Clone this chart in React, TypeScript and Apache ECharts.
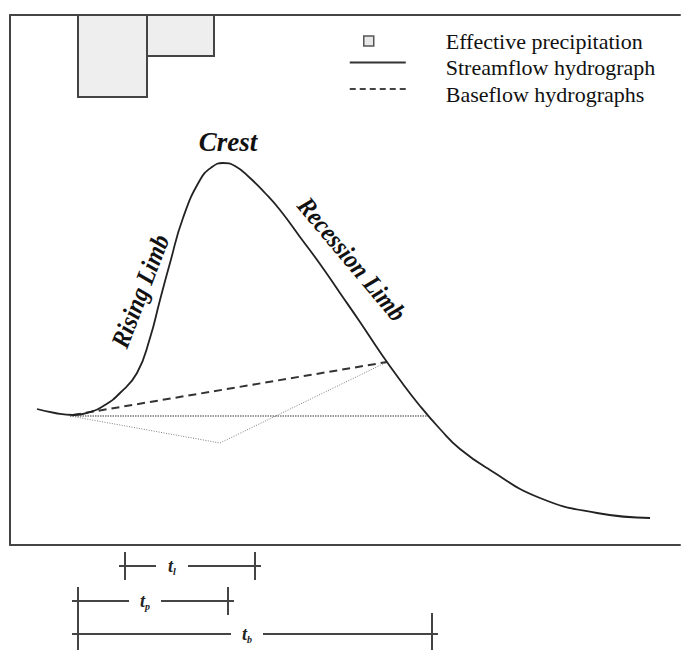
import React, { useEffect, useRef } from 'react';
import * as echarts from 'echarts';

// Effective precipitation blocks (time start/end, depth)
const precipStart = [6.8, 13.7];
const precipEnd = [13.7, 20.4];
const precipDepth = [8.2, 4.1];

// Streamflow hydrograph (time, discharge)
const flowTime = [2.7, 4.5, 6.3, 8.0, 9.5, 11.0, 12.7, 14.0, 15.0, 16.0, 17.3, 19.0, 20.2, 21.3, 22.5, 24.0, 25.5, 27.0, 29.0, 31.0, 33.0, 35.0, 37.0, 39.0, 41.0, 43.0, 45.0, 48.0, 53.0, 58.7, 64.0];
const flowQ = [13.6, 13.2, 13.0, 13.3, 14.0, 15.2, 17.2, 20.7, 24.5, 28.2, 32.7, 36.5, 37.8, 38.2, 37.9, 36.7, 35.2, 33.5, 30.8, 28.1, 25.2, 22.3, 19.3, 16.5, 13.9, 11.6, 9.6, 7.5, 4.7, 3.2, 2.7];

// Baseflow separations
const baseDashedTime = [6.3, 37.7];
const baseDashedQ = [13.0, 18.3];
const baseConstTime = [6.0, 41.8];
const baseConstQ = [12.9, 12.9];
const baseFixedTime = [6.0, 21.0, 37.7];
const baseFixedQ = [12.9, 10.2, 18.3];

// Time parameters below the chart
const timeSub = ['l', 'p', 'b'];
const timeStart = [11.5, 6.8, 6.8];
const timeEnd = [24.5, 21.8, 42.2];
const timeRow = [2.1, 5.6, 8.9];
const timeLabelAt = [16.2, 13.5, 23.7];

// Annotations
const annotText = ['Crest', 'Rising Limb', 'Recession Limb'];
const annotTime = [21.8, 13.0, 34.2];
const annotQ = [40.3, 25.4, 28.6];
const annotAngle = [0, 69, -50];

const legendNames = ['Effective precipitation', 'Streamflow hydrograph', 'Baseflow hydrographs'];

const SERIF = '"Liberation Serif", "Times New Roman", serif';
const FRAME = '#444';

// legend icons (drawn in a 56x12 box; trailing moveTo widens the box)
const ICON_SQUARE = 'path://M14,0H24V10H14ZM0,5M56,5';
const ICON_SOLID = 'path://M0,0H56V2H0ZM0,12';
const ICON_DASHED =
  'path://' + [0, 10, 20, 30, 40, 50].map((x) => `M${x},0h6v2h-6Z`).join('') + 'M56,12M0,12';

export default function App() {
  const ref = useRef<HTMLDivElement>(null);

  useEffect(() => {
    if (!ref.current) return;
    document.body.style.margin = '0';
    const chart = echarts.init(ref.current, null, { renderer: 'svg' });

    const zip = (a: number[], b: number[]) => a.map((v, i) => [v, b[i]]);

    const hiddenAxis = {
      axisLine: { show: false },
      axisTick: { show: false },
      axisLabel: { show: false },
      splitLine: { show: false },
    };
    const frameAxis = {
      axisLine: { show: true, onZero: false, lineStyle: { color: FRAME, width: 2 } },
      axisTick: { show: false },
      axisLabel: { show: false },
      splitLine: { show: false },
    };

    const option: any = {
      animation: false,
      backgroundColor: '#ffffff',
      textStyle: { fontFamily: SERIF },
      tooltip: { show: false },
      grid: [
        { left: 10, top: 15, right: 1, bottom: 105, outerBoundsMode: 'none' },
        { left: 10, top: 545, right: 1, height: 105, outerBoundsMode: 'none' },
      ],
      xAxis: [
        { type: 'value', gridIndex: 0, min: 0, max: 67, position: 'bottom', ...frameAxis },
        { type: 'value', gridIndex: 0, min: 0, max: 67, position: 'top', ...frameAxis },
        { type: 'value', gridIndex: 1, min: 0, max: 67, show: false, ...hiddenAxis },
      ],
      yAxis: [
        { type: 'value', gridIndex: 0, min: 0, max: 53, position: 'left', ...frameAxis },
        { type: 'value', gridIndex: 0, min: 0, max: 53, inverse: true, show: false, ...hiddenAxis },
        { type: 'value', gridIndex: 1, min: 0, max: 10.5, inverse: true, show: false, ...hiddenAxis },
      ],
      legend: {
        orient: 'vertical',
        left: 349,
        top: 29,
        padding: 0,
        itemWidth: 56,
        itemHeight: 12,
        itemGap: 2.5,
        selectedMode: false,
        textStyle: { fontFamily: SERIF, fontSize: 22, color: '#111', lineHeight: 24 },
        formatter: (name: string) => '{g|\u00a0}{n|' + name + '}',
        data: [
          {
            name: legendNames[0],
            icon: ICON_SQUARE,
            itemStyle: { color: '#e8e8e8', borderColor: '#555', borderWidth: 1.5, opacity: 1 },
          },
          {
            name: legendNames[1],
            icon: ICON_SOLID,
            itemStyle: { color: '#333', borderWidth: 0, opacity: 1 },
          },
          {
            name: legendNames[2],
            icon: ICON_DASHED,
            itemStyle: { color: '#444', borderWidth: 0, opacity: 1 },
          },
        ],
      },
      series: [
        {
          name: legendNames[0],
          type: 'custom',
          xAxisIndex: 0,
          yAxisIndex: 1,
          itemStyle: { color: '#e8e8e8', borderColor: '#444', borderWidth: 2 },
          encode: { x: [0, 1], y: 2 },
          data: precipStart.map((s, i) => [s, precipEnd[i], precipDepth[i]]),
          renderItem: (params: any, api: any) => {
            const p0 = api.coord([api.value(0), 0]);
            const p1 = api.coord([api.value(1), api.value(2)]);
            return {
              type: 'rect',
              shape: { x: p0[0], y: p0[1], width: p1[0] - p0[0], height: p1[1] - p0[1] },
              style: { fill: '#eeeeee', stroke: '#444', lineWidth: 2 },
            };
          },
          z: 3,
        },
        {
          name: 'Baseflow (constant)',
          type: 'line',
          xAxisIndex: 0,
          yAxisIndex: 0,
          data: zip(baseConstTime, baseConstQ),
          symbol: 'none',
          lineStyle: { color: '#7a7a7a', width: 1.4, type: [1.5, 1] },
          z: 2,
        },
        {
          name: 'Baseflow (fixed base)',
          type: 'line',
          xAxisIndex: 0,
          yAxisIndex: 0,
          data: zip(baseFixedTime, baseFixedQ),
          symbol: 'none',
          lineStyle: { color: '#808080', width: 1, type: [1, 1.5] },
          z: 2,
        },
        {
          name: legendNames[2],
          type: 'line',
          xAxisIndex: 0,
          yAxisIndex: 0,
          data: zip(baseDashedTime, baseDashedQ),
          symbol: 'none',
          lineStyle: { color: '#333', width: 2, type: [8, 5] },
          itemStyle: { color: '#333' },
          z: 3,
        },
        {
          name: legendNames[1],
          type: 'line',
          xAxisIndex: 0,
          yAxisIndex: 0,
          data: zip(flowTime, flowQ),
          symbol: 'none',
          smooth: 0.5,
          lineStyle: { color: '#222', width: 1.8 },
          itemStyle: { color: '#222' },
          z: 4,
        },
        {
          name: 'Annotations',
          type: 'custom',
          xAxisIndex: 0,
          yAxisIndex: 0,
          encode: { x: 0, y: 1 },
          data: zip(annotTime, annotQ),
          renderItem: (params: any, api: any) => {
            const i = params.dataIndex;
            const p = api.coord([api.value(0), api.value(1)]);
            return {
              type: 'text',
              x: p[0],
              y: p[1],
              rotation: (annotAngle[i] * Math.PI) / 180,
              scaleX: i === 0 ? 1 : 0.9,
              style: {
                text: annotText[i],
                fontFamily: SERIF,
                fontStyle: 'italic',
                fontWeight: 'bold',
                fontSize: i === 0 ? 27 : 26,
                fill: '#111',
                align: 'center',
                verticalAlign: 'middle',
              },
            };
          },
          z: 5,
        },
        {
          name: 'Time parameters',
          type: 'custom',
          xAxisIndex: 2,
          yAxisIndex: 2,
          encode: { x: [0, 1, 3], y: 2 },
          data: timeStart.map((s, i) => [s, timeEnd[i], timeRow[i], timeLabelAt[i]]),
          renderItem: (params: any, api: any) => {
            const i = params.dataIndex;
            const lv = api.value(2);
            const a = api.coord([api.value(0), lv]);
            const b = api.coord([api.value(1), lv]);
            const c = api.coord([api.value(3), lv]);
            const y = a[1];
            const half = i === timeStart.length - 1 ? 21 : 14;
            const st = { stroke: '#444', lineWidth: 2 };
            return {
              type: 'group',
              children: [
                { type: 'line', shape: { x1: a[0] - 6, y1: y, x2: c[0] - 16, y2: y }, style: st },
                { type: 'line', shape: { x1: c[0] + 16, y1: y, x2: b[0] + 6, y2: y }, style: st },
                { type: 'line', shape: { x1: a[0], y1: y - half, x2: a[0], y2: y + half }, style: st },
                { type: 'line', shape: { x1: b[0], y1: y - half, x2: b[0], y2: y + half }, style: st },
                {
                  type: 'text',
                  x: c[0],
                  y: y,
                  style: {
                    text: '{t|t}{s|' + timeSub[i] + '}',
                    align: 'center',
                    verticalAlign: 'middle',
                    rich: {
                      t: { fontFamily: SERIF, fontStyle: 'italic', fontWeight: 'bold', fontSize: 18, fill: '#222', lineHeight: 20 },
                      s: { fontFamily: SERIF, fontStyle: 'italic', fontWeight: 'bold', fontSize: 10, fill: '#222', verticalAlign: 'bottom', lineHeight: 12 },
                    },
                  },
                },
              ],
            };
          },
        },
      ],
    };

    option.legend.textStyle.rich = {
      g: { width: 35, fontFamily: SERIF, fontSize: 22 },
      n: { fontFamily: SERIF, fontSize: 22, color: '#111' },
    };

    chart.setOption(option);
    return () => chart.dispose();
  }, []);

  return (
    <div style={{ position: 'fixed', left: 0, top: 0, width: 681, height: 650 }}>
      <div ref={ref} style={{ width: 681, height: 650, background: '#fff' }} />
    </div>
  );
}
